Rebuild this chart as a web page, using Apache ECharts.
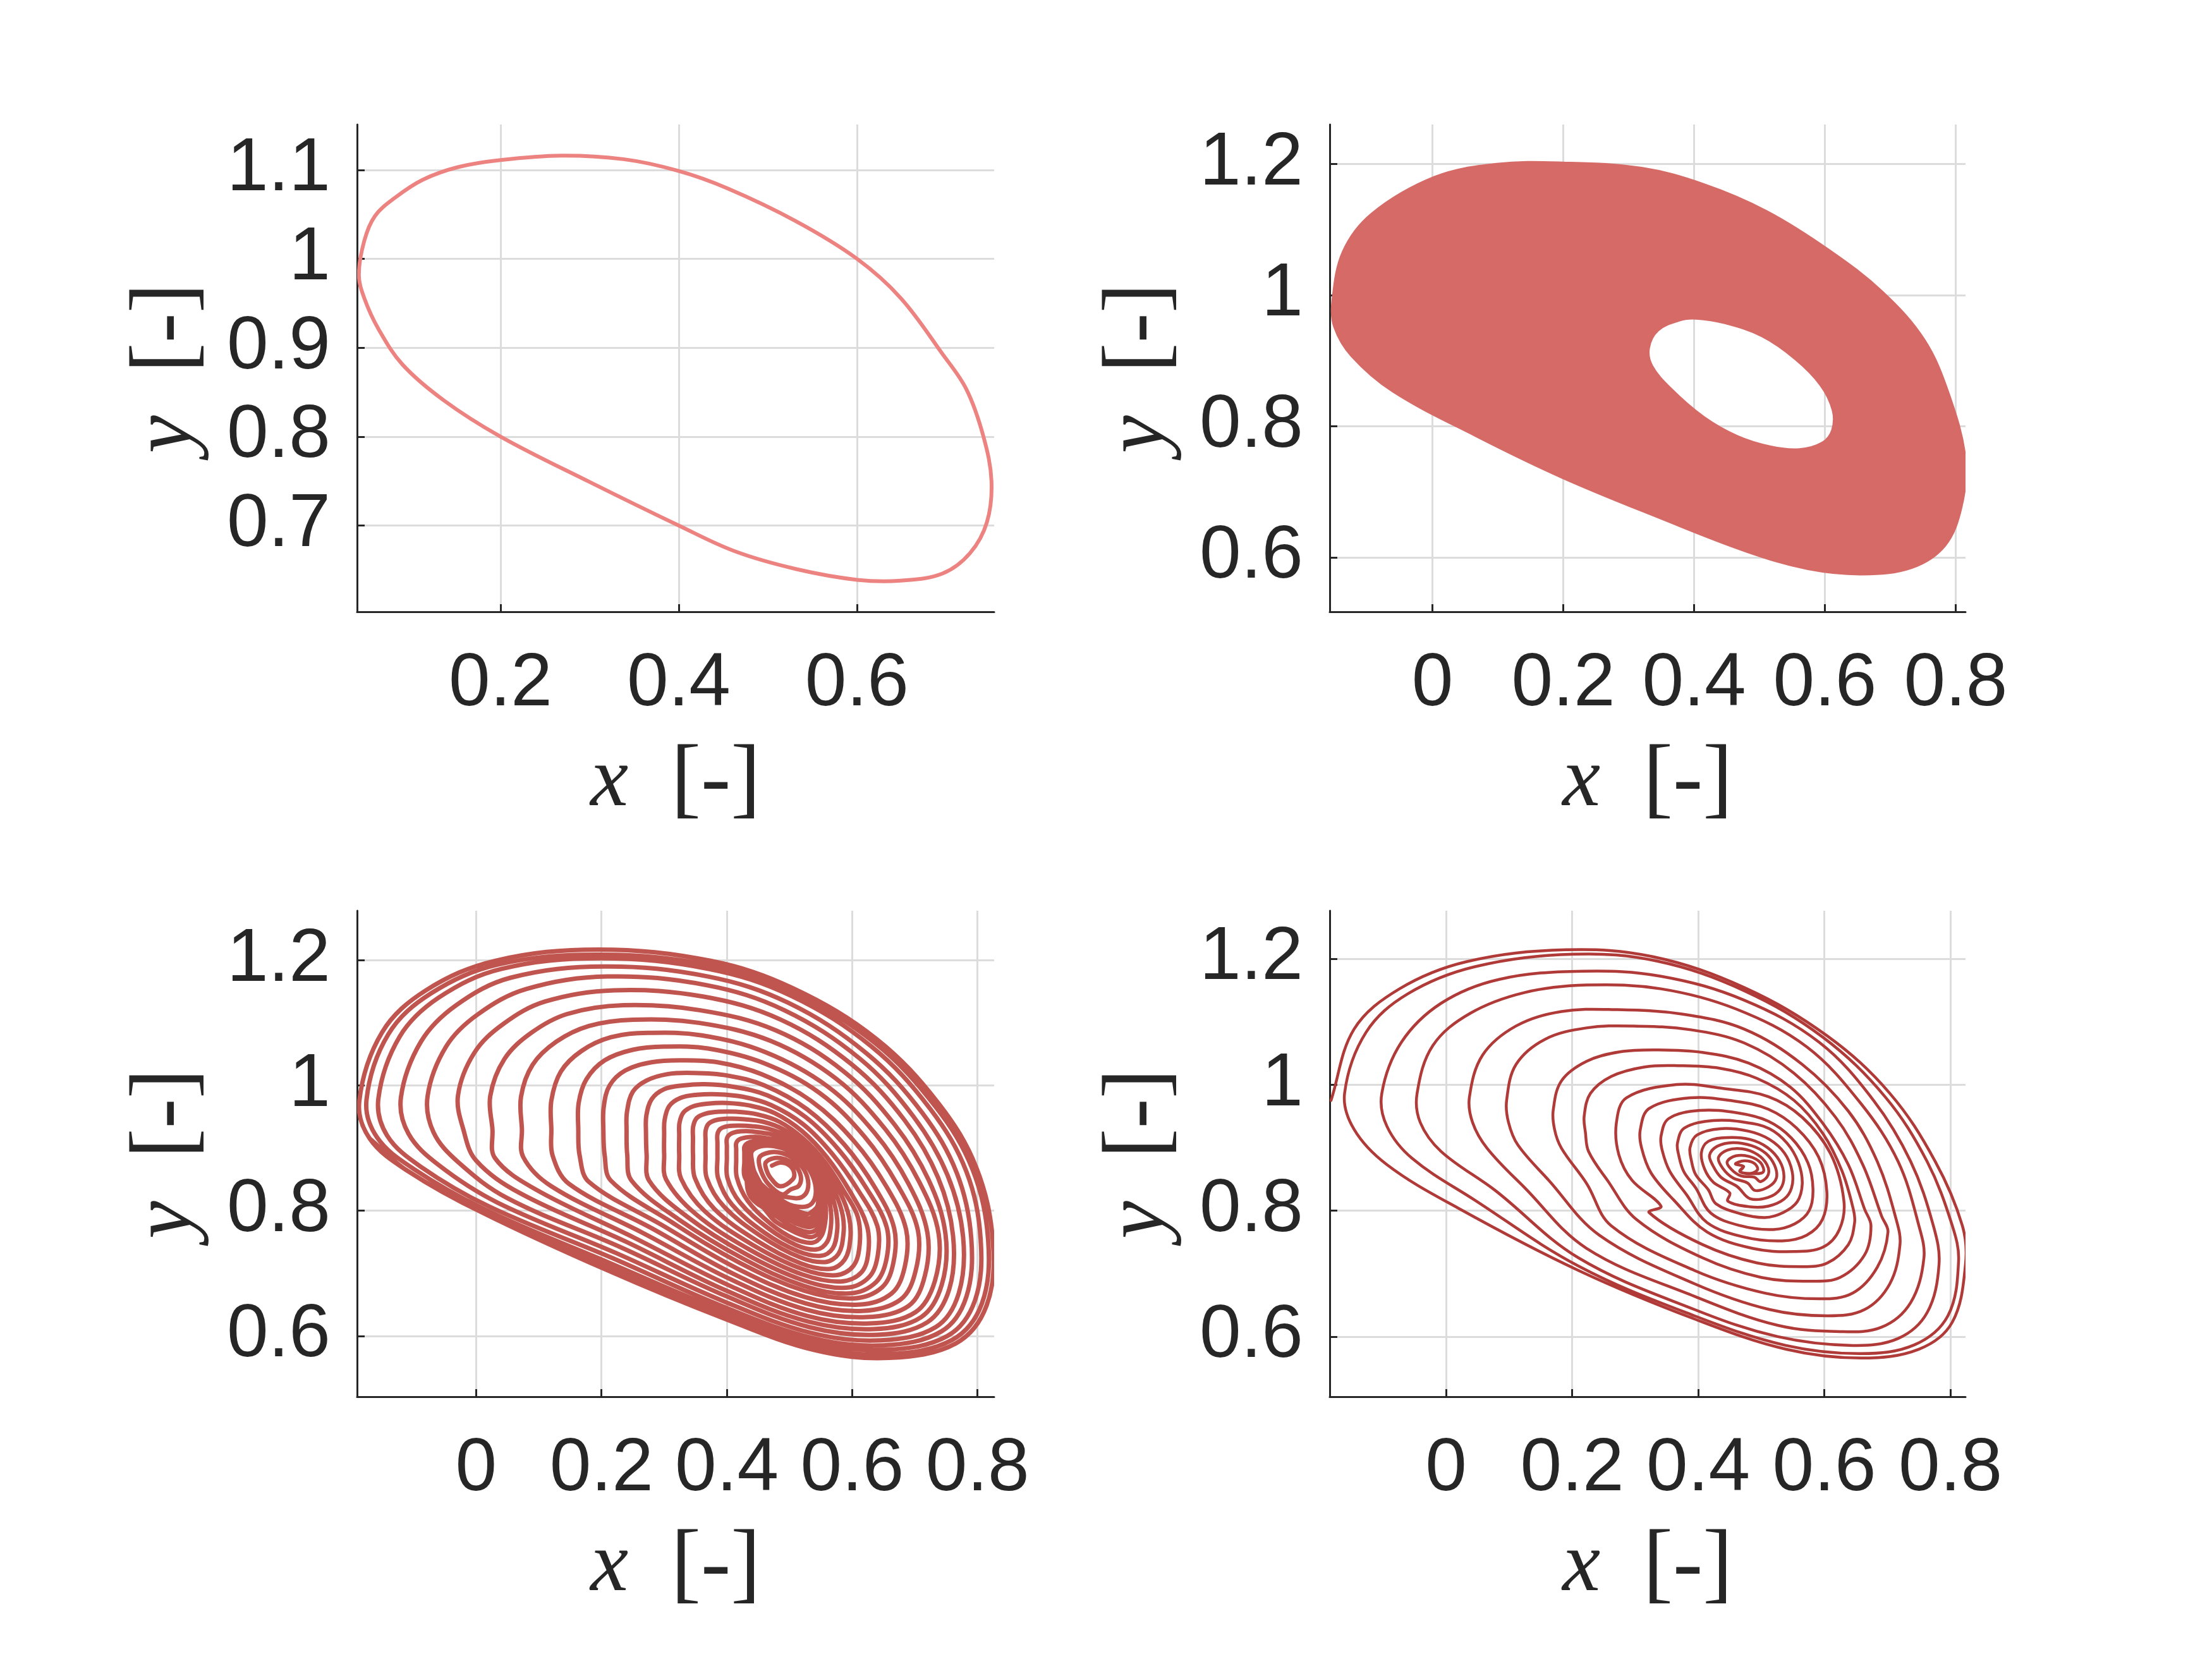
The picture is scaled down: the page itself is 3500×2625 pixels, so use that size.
<!DOCTYPE html>
<html>
<head>
<meta charset="utf-8">
<script src="https://cdn.jsdelivr.net/npm/echarts@6.0.0/dist/echarts.min.js"></script>
<style>
    html, body { margin: 0; padding: 0; background: #ffffff; }
    #main { width: 3500px; height: 2625px; }
</style>
</head>
<body>
<div id="main"></div>
<script>
const log = console.log.bind(console)
const e = sel => document.querySelector(sel)

// limit cycle (top left)
const tlCycle = [
    [0.041, 0.982], [0.047, 1.02], [0.059, 1.048], [0.082, 1.069], [0.113, 1.089], [0.152, 1.103],
    [0.2, 1.111], [0.268, 1.116], [0.338, 1.112], [0.399, 1.099], [0.455, 1.079], [0.532, 1.042],
    [0.6, 1.0], [0.649, 0.956], [0.696, 0.893], [0.723, 0.853], [0.742, 0.8], [0.751, 0.75],
    [0.746, 0.704], [0.727, 0.669], [0.696, 0.646], [0.649, 0.638], [0.6, 0.639], [0.532, 0.651],
    [0.463, 0.671], [0.4, 0.7], [0.3, 0.749], [0.2, 0.8], [0.136, 0.841], [0.09, 0.881],
    [0.063, 0.921], [0.047, 0.956],
]

// torus band (top right): outer edge and hole edge
const trOuter = [
    [-0.153, 0.99], [-0.137, 1.066], [-0.093, 1.124], [0.003, 1.18], [0.098, 1.2], [0.199, 1.202],
    [0.32, 1.194], [0.415, 1.169], [0.511, 1.128], [0.606, 1.069], [0.688, 1.005], [0.752, 0.932],
    [0.79, 0.848], [0.815, 0.75], [0.809, 0.677], [0.784, 0.618], [0.733, 0.584], [0.657, 0.574],
    [0.574, 0.582], [0.479, 0.609], [0.352, 0.658], [0.199, 0.721], [0.066, 0.785], [-0.061, 0.853],
    [-0.124, 0.907], [-0.15, 0.951],
]
const trHole = [
    [0.331, 0.919], [0.345, 0.946], [0.377, 0.961], [0.403, 0.964], [0.447, 0.957], [0.504, 0.937],
    [0.555, 0.902], [0.593, 0.863], [0.612, 0.824], [0.611, 0.794], [0.596, 0.775], [0.561, 0.765],
    [0.517, 0.769], [0.466, 0.785], [0.415, 0.814], [0.364, 0.858], [0.336, 0.892],
]

// unstable focus spiralling out to the cycle (bottom left), outer ring first
const blSpiral = [
    [[-0.1865, 0.975], [-0.15, 1.085], [-0.08, 1.152], [0.03, 1.199], [0.195, 1.217], [0.374, 1.199], [0.506, 1.155], [0.639, 1.074], [0.738, 0.971], [0.798, 0.869], [0.8245, 0.751], [0.8146, 0.649], [0.765, 0.588], [0.659, 0.565], [0.5395, 0.5775], [0.3937, 0.6286], [0.2081, 0.7054], [0.0093, 0.7974], [-0.11, 0.864], [-0.1697, 0.915]],
    [[-0.175, 0.977], [-0.14, 1.082], [-0.072, 1.147], [0.035, 1.193], [0.197, 1.209], [0.374, 1.192], [0.505, 1.149], [0.636, 1.068], [0.733, 0.966], [0.792, 0.866], [0.817, 0.752], [0.807, 0.652], [0.76, 0.594], [0.657, 0.571], [0.539, 0.583], [0.394, 0.634], [0.21, 0.711], [0.014, 0.802], [-0.1, 0.867], [-0.158, 0.917]],
    [[-0.156, 0.979], [-0.122, 1.078], [-0.06, 1.14], [0.04, 1.186], [0.199, 1.203], [0.372, 1.186], [0.503, 1.143], [0.631, 1.062], [0.725, 0.962], [0.782, 0.863], [0.805, 0.754], [0.796, 0.657], [0.752, 0.6], [0.654, 0.578], [0.538, 0.59], [0.394, 0.64], [0.212, 0.717], [0.02, 0.807], [-0.088, 0.87], [-0.142, 0.92]],
    [[-0.12, 0.981], [-0.088, 1.07], [-0.032, 1.128], [0.055, 1.172], [0.205, 1.19], [0.37, 1.174], [0.498, 1.132], [0.622, 1.052], [0.712, 0.956], [0.767, 0.86], [0.79, 0.756], [0.782, 0.662], [0.742, 0.607], [0.65, 0.585], [0.536, 0.597], [0.394, 0.647], [0.216, 0.725], [0.034, 0.813], [-0.06, 0.873], [-0.108, 0.923]],
    [[-0.0775, 0.983], [-0.048, 1.062], [0.002, 1.113], [0.08, 1.154], [0.21, 1.174], [0.368, 1.16], [0.492, 1.12], [0.612, 1.043], [0.698, 0.95], [0.752, 0.857], [0.777, 0.758], [0.77, 0.668], [0.733, 0.614], [0.646, 0.593], [0.534, 0.605], [0.396, 0.655], [0.222, 0.733], [0.05, 0.82], [-0.028, 0.877], [-0.068, 0.925]],
    [[-0.029, 0.984], [-0.003, 1.052], [0.043, 1.098], [0.11, 1.134], [0.22, 1.152], [0.362, 1.142], [0.486, 1.105], [0.6, 1.033], [0.684, 0.944], [0.737, 0.853], [0.761, 0.76], [0.755, 0.675], [0.72, 0.622], [0.64, 0.602], [0.532, 0.614], [0.398, 0.664], [0.23, 0.742], [0.07, 0.828], [0.0, 0.88], [-0.02, 0.928]],
    [[0.0225, 0.983], [0.045, 1.042], [0.088, 1.084], [0.145, 1.114], [0.235, 1.128], [0.358, 1.12], [0.478, 1.088], [0.587, 1.022], [0.668, 0.937], [0.722, 0.849], [0.749, 0.762], [0.743, 0.682], [0.71, 0.63], [0.634, 0.611], [0.53, 0.623], [0.4, 0.672], [0.24, 0.75], [0.095, 0.834], [0.03, 0.884], [0.026, 0.93]],
    [[0.0716, 0.982], [0.09, 1.033], [0.128, 1.07], [0.18, 1.095], [0.25, 1.105], [0.355, 1.1], [0.47, 1.071], [0.574, 1.011], [0.653, 0.93], [0.707, 0.846], [0.738, 0.763], [0.732, 0.688], [0.701, 0.638], [0.628, 0.62], [0.528, 0.632], [0.403, 0.681], [0.252, 0.757], [0.12, 0.839], [0.075, 0.886], [0.073, 0.93]],
    [[0.12, 0.976], [0.135, 1.022], [0.168, 1.055], [0.215, 1.077], [0.275, 1.084], [0.36, 1.08], [0.462, 1.053], [0.56, 0.999], [0.636, 0.924], [0.69, 0.843], [0.72, 0.765], [0.716, 0.696], [0.69, 0.648], [0.622, 0.63], [0.527, 0.642], [0.407, 0.69], [0.265, 0.765], [0.148, 0.843], [0.122, 0.888], [0.12, 0.93]],
    [[0.1636, 0.972], [0.176, 1.01], [0.205, 1.04], [0.25, 1.057], [0.3, 1.062], [0.37, 1.059], [0.458, 1.036], [0.548, 0.988], [0.62, 0.918], [0.673, 0.84], [0.705, 0.768], [0.701, 0.703], [0.677, 0.658], [0.616, 0.64], [0.526, 0.652], [0.411, 0.699], [0.28, 0.772], [0.18, 0.846], [0.165, 0.889], [0.163, 0.93]],
    [[0.2036, 0.966], [0.213, 1.0], [0.238, 1.024], [0.28, 1.037], [0.325, 1.04], [0.385, 1.037], [0.455, 1.018], [0.535, 0.975], [0.603, 0.911], [0.655, 0.838], [0.686, 0.77], [0.684, 0.711], [0.663, 0.668], [0.61, 0.65], [0.525, 0.662], [0.416, 0.708], [0.295, 0.778], [0.215, 0.848], [0.205, 0.889], [0.203, 0.93]],
    [[0.2407, 0.958], [0.25, 0.99], [0.272, 1.008], [0.305, 1.018], [0.345, 1.02], [0.4, 1.016], [0.46, 1.0], [0.528, 0.962], [0.588, 0.905], [0.637, 0.836], [0.667, 0.772], [0.666, 0.718], [0.648, 0.678], [0.602, 0.66], [0.524, 0.672], [0.42, 0.717], [0.31, 0.783], [0.248, 0.848], [0.241, 0.89], [0.24, 0.928]],
    [[0.2716, 0.952], [0.28, 0.978], [0.3, 0.994], [0.33, 1.0], [0.365, 1.002], [0.41, 0.998], [0.465, 0.984], [0.525, 0.95], [0.578, 0.898], [0.624, 0.834], [0.655, 0.774], [0.655, 0.724], [0.638, 0.686], [0.596, 0.668], [0.523, 0.68], [0.425, 0.724], [0.322, 0.787], [0.276, 0.848], [0.272, 0.89], [0.271, 0.925]],
    [[0.3007, 0.945], [0.308, 0.967], [0.326, 0.98], [0.352, 0.985], [0.385, 0.986], [0.425, 0.982], [0.47, 0.969], [0.522, 0.938], [0.568, 0.891], [0.61, 0.832], [0.64, 0.776], [0.641, 0.73], [0.627, 0.694], [0.59, 0.677], [0.522, 0.689], [0.43, 0.731], [0.336, 0.791], [0.303, 0.85], [0.3, 0.89], [0.3, 0.922]],
    [[0.3244, 0.94], [0.331, 0.957], [0.347, 0.967], [0.37, 0.971], [0.4, 0.972], [0.436, 0.968], [0.476, 0.956], [0.52, 0.927], [0.56, 0.885], [0.597, 0.83], [0.623, 0.778], [0.626, 0.736], [0.615, 0.702], [0.582, 0.687], [0.521, 0.698], [0.436, 0.738], [0.35, 0.795], [0.327, 0.851], [0.324, 0.89], [0.324, 0.92]],
    [[0.3462, 0.934], [0.352, 0.948], [0.366, 0.955], [0.388, 0.958], [0.415, 0.958], [0.448, 0.954], [0.484, 0.942], [0.522, 0.915], [0.557, 0.877], [0.59, 0.826], [0.609, 0.79], [0.612, 0.747], [0.602, 0.712], [0.574, 0.697], [0.52, 0.707], [0.442, 0.745], [0.365, 0.799], [0.349, 0.852], [0.346, 0.89], [0.346, 0.916]],
    [[0.3662, 0.928], [0.371, 0.939], [0.384, 0.945], [0.404, 0.947], [0.428, 0.946], [0.458, 0.942], [0.49, 0.93], [0.524, 0.905], [0.556, 0.869], [0.582, 0.826], [0.595, 0.79], [0.597, 0.755], [0.588, 0.722], [0.565, 0.707], [0.518, 0.716], [0.448, 0.752], [0.38, 0.803], [0.368, 0.852], [0.366, 0.888], [0.366, 0.912]],
    [[0.385, 0.922], [0.39, 0.931], [0.402, 0.935], [0.42, 0.936], [0.44, 0.935], [0.466, 0.931], [0.494, 0.92], [0.525, 0.897], [0.553, 0.864], [0.574, 0.826], [0.585, 0.792], [0.586, 0.762], [0.578, 0.731], [0.557, 0.718], [0.516, 0.726], [0.455, 0.759], [0.395, 0.807], [0.386, 0.852], [0.385, 0.886], [0.385, 0.908]],
    [[0.4, 0.915], [0.405, 0.922], [0.416, 0.926], [0.432, 0.927], [0.452, 0.925], [0.475, 0.921], [0.5, 0.911], [0.527, 0.89], [0.55, 0.86], [0.567, 0.826], [0.575, 0.795], [0.576, 0.768], [0.569, 0.74], [0.55, 0.728], [0.514, 0.735], [0.46, 0.765], [0.408, 0.81], [0.401, 0.852], [0.4, 0.885], [0.4, 0.903]],
    [[0.415, 0.908], [0.42, 0.914], [0.431, 0.917], [0.446, 0.918], [0.462, 0.916], [0.484, 0.912], [0.507, 0.902], [0.53, 0.882], [0.549, 0.856], [0.561, 0.826], [0.566, 0.8], [0.566, 0.775], [0.56, 0.75], [0.543, 0.738], [0.511, 0.745], [0.466, 0.772], [0.421, 0.813], [0.416, 0.853], [0.415, 0.883], [0.415, 0.898]],
    [[0.428, 0.902], [0.433, 0.908], [0.443, 0.911], [0.458, 0.911], [0.472, 0.909], [0.49, 0.905], [0.51, 0.895], [0.53, 0.877], [0.546, 0.853], [0.555, 0.826], [0.558, 0.803], [0.557, 0.782], [0.551, 0.76], [0.537, 0.749], [0.508, 0.755], [0.47, 0.779], [0.433, 0.816], [0.429, 0.853], [0.428, 0.88], [0.428, 0.893]],
    [[0.43, 0.9], [0.435, 0.907], [0.445, 0.91], [0.46, 0.91], [0.475, 0.908], [0.492, 0.903], [0.512, 0.893], [0.531, 0.875], [0.546, 0.852], [0.554, 0.826], [0.556, 0.805], [0.555, 0.786], [0.549, 0.767], [0.536, 0.758], [0.52, 0.761], [0.5, 0.77], [0.472, 0.788], [0.438, 0.822], [0.431, 0.856], [0.43, 0.882]],
    [[0.432, 0.899], [0.437, 0.906], [0.447, 0.909], [0.462, 0.909], [0.477, 0.907], [0.494, 0.902], [0.513, 0.891], [0.532, 0.873], [0.546, 0.851], [0.553, 0.826], [0.554, 0.807], [0.553, 0.79], [0.547, 0.774], [0.535, 0.766], [0.52, 0.768], [0.5, 0.777], [0.474, 0.795], [0.441, 0.827], [0.433, 0.858], [0.432, 0.882]],
    [[0.434, 0.898], [0.439, 0.905], [0.449, 0.908], [0.464, 0.908], [0.479, 0.906], [0.496, 0.9], [0.515, 0.889], [0.533, 0.871], [0.546, 0.85], [0.552, 0.826], [0.552, 0.809], [0.551, 0.794], [0.545, 0.781], [0.534, 0.774], [0.52, 0.776], [0.5, 0.785], [0.476, 0.802], [0.444, 0.832], [0.435, 0.86], [0.434, 0.882]],
    [[0.436, 0.897], [0.441, 0.904], [0.451, 0.907], [0.466, 0.907], [0.481, 0.905], [0.497, 0.899], [0.516, 0.887], [0.534, 0.869], [0.545, 0.849], [0.55, 0.827], [0.55, 0.811], [0.549, 0.798], [0.543, 0.788], [0.533, 0.781], [0.52, 0.783], [0.5, 0.792], [0.478, 0.808], [0.447, 0.836], [0.437, 0.862], [0.436, 0.882]],
    [[0.438, 0.896], [0.443, 0.903], [0.453, 0.906], [0.468, 0.906], [0.483, 0.904], [0.498, 0.898], [0.517, 0.885], [0.534, 0.867], [0.544, 0.848], [0.548, 0.828], [0.548, 0.813], [0.547, 0.802], [0.541, 0.794], [0.532, 0.788], [0.52, 0.79], [0.5, 0.799], [0.48, 0.814], [0.45, 0.841], [0.439, 0.864], [0.438, 0.882]],
    [[0.439, 0.895], [0.445, 0.902], [0.455, 0.905], [0.47, 0.905], [0.485, 0.903], [0.499, 0.897], [0.518, 0.883], [0.534, 0.865], [0.543, 0.847], [0.546, 0.829], [0.546, 0.815], [0.544, 0.806], [0.538, 0.8], [0.53, 0.795], [0.52, 0.797], [0.5, 0.806], [0.481, 0.82], [0.452, 0.845], [0.44, 0.866], [0.439, 0.882]],
    [[0.44, 0.895], [0.455, 0.903], [0.475, 0.903], [0.5, 0.895], [0.522, 0.878], [0.537, 0.855], [0.542, 0.83], [0.536, 0.812], [0.52, 0.806], [0.495, 0.812], [0.465, 0.832], [0.445, 0.86], [0.44, 0.88]],
    [[0.452, 0.885], [0.468, 0.893], [0.488, 0.892], [0.508, 0.882], [0.524, 0.864], [0.53, 0.843], [0.525, 0.826], [0.51, 0.82], [0.488, 0.826], [0.466, 0.843], [0.454, 0.865]],
    [[0.462, 0.877], [0.476, 0.884], [0.493, 0.882], [0.51, 0.871], [0.518, 0.855], [0.515, 0.84], [0.502, 0.834], [0.485, 0.839], [0.47, 0.852], [0.463, 0.866]],
    [[0.472, 0.872], [0.485, 0.877], [0.499, 0.873], [0.507, 0.862], [0.505, 0.85], [0.495, 0.845], [0.482, 0.85], [0.474, 0.86]],
]

// stable focus (bottom right), outer ring first
const brSpiral = [
    [[-0.1825, 0.975], [-0.146, 1.088], [-0.074, 1.152], [0.032, 1.195], [0.19, 1.214], [0.328, 1.203], [0.473, 1.154], [0.605, 1.077], [0.704, 0.986], [0.776, 0.878], [0.819, 0.776], [0.824, 0.715], [0.803, 0.623], [0.75, 0.58], [0.658, 0.566], [0.539, 0.58], [0.394, 0.628], [0.21, 0.705], [0.012, 0.797], [-0.107, 0.868], [-0.166, 0.924]],
    [[-0.161, 0.986], [-0.127, 1.083], [-0.061, 1.144], [0.045, 1.187], [0.203, 1.207], [0.335, 1.196], [0.473, 1.149], [0.598, 1.075], [0.697, 0.98], [0.763, 0.878], [0.803, 0.776], [0.813, 0.72], [0.796, 0.633], [0.743, 0.587], [0.658, 0.573], [0.539, 0.586], [0.394, 0.633], [0.21, 0.712], [0.019, 0.804], [-0.094, 0.873], [-0.146, 0.929]],
    [[-0.102, 0.986], [-0.071, 1.067], [-0.008, 1.129], [0.084, 1.167], [0.216, 1.18], [0.341, 1.172], [0.473, 1.134], [0.592, 1.067], [0.678, 0.975], [0.737, 0.878], [0.773, 0.776], [0.782, 0.715], [0.763, 0.638], [0.717, 0.597], [0.645, 0.586], [0.526, 0.6], [0.394, 0.643], [0.21, 0.725], [0.045, 0.817], [-0.054, 0.883], [-0.094, 0.934]],
    [[-0.046, 0.986], [-0.021, 1.062], [0.038, 1.113], [0.124, 1.146], [0.223, 1.158], [0.341, 1.152], [0.46, 1.12], [0.572, 1.06], [0.658, 0.97], [0.717, 0.878], [0.75, 0.776], [0.758, 0.725], [0.737, 0.654], [0.691, 0.615], [0.625, 0.608], [0.526, 0.618], [0.394, 0.664], [0.223, 0.74], [0.078, 0.832], [-0.008, 0.894], [-0.041, 0.94]],
    [[0.037, 0.98], [0.058, 1.047], [0.111, 1.093], [0.183, 1.116], [0.269, 1.119], [0.374, 1.112], [0.473, 1.088], [0.565, 1.032], [0.638, 0.958], [0.684, 0.878], [0.714, 0.786], [0.72, 0.746], [0.704, 0.684], [0.664, 0.643], [0.605, 0.633], [0.513, 0.643], [0.394, 0.684], [0.243, 0.761], [0.124, 0.837], [0.065, 0.899], [0.042, 0.94]],
    [[0.096, 0.975], [0.111, 1.032], [0.157, 1.072], [0.223, 1.09], [0.295, 1.093], [0.388, 1.087], [0.473, 1.066], [0.552, 1.018], [0.618, 0.948], [0.661, 0.873], [0.691, 0.791], [0.701, 0.766], [0.684, 0.71], [0.645, 0.669], [0.592, 0.66], [0.506, 0.669], [0.394, 0.705], [0.262, 0.776], [0.163, 0.848], [0.114, 0.904], [0.099, 0.94]],
    [[0.17, 0.96], [0.183, 1.006], [0.223, 1.037], [0.276, 1.052], [0.335, 1.055], [0.407, 1.051], [0.48, 1.034], [0.546, 0.996], [0.598, 0.938], [0.638, 0.873], [0.664, 0.802], [0.674, 0.776], [0.664, 0.73], [0.625, 0.694], [0.579, 0.688], [0.5, 0.694], [0.407, 0.725], [0.302, 0.786], [0.223, 0.843], [0.183, 0.899], [0.172, 0.929]],
    [[0.219, 0.95], [0.229, 0.986], [0.262, 1.013], [0.315, 1.028], [0.368, 1.03], [0.434, 1.026], [0.493, 1.01], [0.552, 0.975], [0.598, 0.922], [0.628, 0.863], [0.646, 0.802], [0.648, 0.781], [0.638, 0.746], [0.605, 0.717], [0.565, 0.711], [0.493, 0.717], [0.407, 0.746], [0.322, 0.797], [0.256, 0.848], [0.226, 0.894], [0.221, 0.924]],
    [[0.27, 0.938], [0.286, 0.979], [0.366, 1.0], [0.438, 0.994], [0.511, 0.981], [0.565, 0.948], [0.61, 0.89], [0.631, 0.816], [0.624, 0.77], [0.598, 0.742], [0.552, 0.735], [0.486, 0.74], [0.414, 0.766], [0.341, 0.807], [0.295, 0.848], [0.274, 0.889]],
    [[0.308, 0.928], [0.322, 0.962], [0.3875, 0.979], [0.456, 0.974], [0.511, 0.961], [0.556, 0.931], [0.591, 0.885], [0.604, 0.83], [0.597, 0.786], [0.572, 0.761], [0.533, 0.752], [0.473, 0.758], [0.414, 0.781], [0.361, 0.817], [0.325, 0.86], [0.31, 0.9]],
    [[0.341, 0.918], [0.353, 0.946], [0.402, 0.959], [0.463, 0.955], [0.511, 0.942], [0.548, 0.915], [0.574, 0.876], [0.582, 0.835], [0.576, 0.8], [0.553, 0.779], [0.519, 0.77], [0.467, 0.776], [0.42, 0.796], [0.381, 0.826], [0.355, 0.862], [0.343, 0.895]],
    [[0.367, 0.907], [0.378, 0.931], [0.424, 0.943], [0.475, 0.94], [0.513, 0.93], [0.541, 0.907], [0.559, 0.876], [0.565, 0.843], [0.557, 0.814], [0.535, 0.797], [0.506, 0.789], [0.467, 0.795], [0.428, 0.811], [0.396, 0.836], [0.377, 0.862], [0.369, 0.888]],
    [[0.387, 0.9], [0.398, 0.92], [0.435, 0.93], [0.48, 0.926], [0.513, 0.913], [0.537, 0.891], [0.549, 0.862], [0.548, 0.836], [0.536, 0.818], [0.511, 0.807], [0.482, 0.806], [0.447, 0.815], [0.416, 0.833], [0.396, 0.857], [0.389, 0.88]],
    [[0.405, 0.892], [0.416, 0.91], [0.446, 0.916], [0.482, 0.913], [0.51, 0.9], [0.529, 0.879], [0.536, 0.855], [0.53, 0.834], [0.511, 0.821], [0.482, 0.819], [0.45, 0.828], [0.424, 0.845], [0.41, 0.866]],
    [[0.418, 0.888], [0.43, 0.902], [0.455, 0.908], [0.485, 0.903], [0.507, 0.891], [0.521, 0.872], [0.524, 0.852], [0.512, 0.838], [0.49, 0.832], [0.462, 0.838], [0.436, 0.853], [0.423, 0.872]],
    [[0.432, 0.884], [0.446, 0.896], [0.47, 0.898], [0.494, 0.889], [0.509, 0.873], [0.511, 0.857], [0.499, 0.846], [0.478, 0.844], [0.455, 0.852], [0.439, 0.867]],
    [[0.446, 0.878], [0.46, 0.887], [0.481, 0.886], [0.499, 0.876], [0.503, 0.861], [0.489, 0.853], [0.468, 0.855], [0.452, 0.866]],
    [[0.459, 0.874], [0.473, 0.879], [0.489, 0.875], [0.494, 0.865], [0.482, 0.859], [0.466, 0.862], [0.472, 0.87]],
]

const xTicksTL = [0.2, 0.4, 0.6]
const yTicksTL = [0.7, 0.8, 0.9, 1, 1.1]
const xTicks = [0, 0.2, 0.4, 0.6, 0.8]
const yTicks = [0.6, 0.8, 1, 1.2]
const xRanges = [[0.039, 0.754], [-0.157, 0.815], [-0.19, 0.8265], [-0.1846, 0.824]]
const yRanges = [[0.603, 1.151], [0.517, 1.26], [0.503, 1.279], [0.5046, 1.276]]

const ink = '#262626'
const sans = 'Liberation Sans, Arial, Helvetica, sans-serif'
const serif = 'Liberation Serif, Times New Roman, serif'

const nameStyle = () => ({
    fontSize: 135,
    color: ink,
    fontFamily: serif,
    rich: {
        i: { fontSize: 135, fontStyle: 'italic', fontFamily: serif, color: ink },
        b: { fontSize: 142, fontFamily: serif, color: ink },
    },
})

const axisCommon = (i, range, ticks) => ({
    type: 'value',
    gridIndex: i,
    min: range[0],
    max: range[1],
    axisLine: { show: true, onZero: false, lineStyle: { color: ink, width: 3 } },
    axisTick: { show: true, inside: true, length: 12, customValues: ticks, lineStyle: { color: ink, width: 3 } },
    splitLine: { show: true, lineStyle: { color: '#dcdcdc', width: 3 } },
})

const makeX = (i, ticks) => Object.assign(axisCommon(i, xRanges[i], ticks), {
    name: '{i|x}  {b|[-]}',
    nameLocation: 'middle',
    nameGap: 200,
    nameTextStyle: nameStyle(),
    axisLabel: { customValues: ticks, margin: 56, fontSize: 118, color: ink, fontFamily: sans },
})

const makeY = (i, ticks) => Object.assign(axisCommon(i, yRanges[i], ticks), {
    name: '{i|y}  {b|[-]}',
    nameLocation: 'middle',
    nameRotate: 90,
    nameGap: 228,
    nameTextStyle: nameStyle(),
    axisLabel: { customValues: ticks, margin: 42, fontSize: 118, color: ink, fontFamily: sans },
})

// one continuous trajectory: each turn ends on the tail of the next ring
const spiralPoints = rings => {
    let pts = []
    rings.forEach((r, k) => {
        let next = rings[k + 1]
        if (next) {
            pts.push(...r.slice(0, r.length - 3), ...next.slice(next.length - 3))
        } else {
            pts.push(...r)
        }
    })
    return pts
}

// smooth path through pixel points (cardinal spline as cubic beziers)
const curvePath = (pts, closed) => {
    let n = pts.length
    let at = k => closed ? pts[(k + n) % n] : pts[Math.max(0, Math.min(n - 1, k))]
    let dist = (a, b) => Math.hypot(a[0] - b[0], a[1] - b[1])
    let s = 0.36
    let ctrl = k => {
        let p = at(k)
        let a = at(k - 1)
        let b = at(k + 1)
        let d0 = dist(a, p)
        let d1 = dist(p, b)
        let sum = d0 + d1 || 1
        let tx = b[0] - a[0]
        let ty = b[1] - a[1]
        return {
            in: [p[0] - tx * s * d0 / sum, p[1] - ty * s * d0 / sum],
            out: [p[0] + tx * s * d1 / sum, p[1] + ty * s * d1 / sum],
        }
    }
    let f = v => v.toFixed(1)
    let d = 'M' + f(pts[0][0]) + ' ' + f(pts[0][1])
    let segs = closed ? n : n - 1
    for (let k = 0; k < segs; k++) {
        let c1 = ctrl(k).out
        let c2 = ctrl(k + 1).in
        let q = at(k + 1)
        d += ' C' + [c1[0], c1[1], c2[0], c2[1], q[0], q[1]].map(f).join(' ')
    }
    return closed ? d + ' Z' : d
}

const curveSeries = (i, points, closed, color, width) => ({
    type: 'custom',
    xAxisIndex: i,
    yAxisIndex: i,
    silent: true,
    clip: true,
    data: [points[0]],
    renderItem: (params, api) => ({
        type: 'path',
        shape: { pathData: curvePath(points.map(p => api.coord(p)), closed) },
        style: { fill: 'none', stroke: color, lineWidth: width, lineJoin: 'round', lineCap: 'round' },
    }),
})

const bandSeries = (color) => ({
    type: 'custom',
    xAxisIndex: 1,
    yAxisIndex: 1,
    silent: true,
    clip: true,
    data: [trOuter[0]],
    renderItem: (params, api) => {
        let outer = curvePath(trOuter.map(p => api.coord(p)), true)
        let hole = curvePath(trHole.slice().reverse().map(p => api.coord(p)), true)
        return {
            type: 'path',
            shape: { pathData: outer + ' ' + hole },
            style: { fill: color, stroke: color, lineWidth: 3 },
        }
    },
})

const initChart = () => {
    let chart = echarts.init(e('#main'), null, { renderer: 'canvas' })
    let option = {
        backgroundColor: '#ffffff',
        animation: false,
        grid: [
            { left: 565, top: 197, width: 1008, height: 771 },
            { left: 2104, top: 197, width: 1006, height: 771 },
            { left: 565, top: 1441, width: 1008, height: 769 },
            { left: 2104, top: 1441, width: 1006, height: 769 },
        ],
        xAxis: [
            makeX(0, xTicksTL),
            makeX(1, xTicks),
            makeX(2, xTicks),
            makeX(3, xTicks),
        ],
        yAxis: [
            makeY(0, yTicksTL),
            makeY(1, yTicks),
            makeY(2, yTicks),
            makeY(3, yTicks),
        ],
        series: [
            curveSeries(0, tlCycle, true, '#EC8380', 6),
            bandSeries('#D56A66'),
            curveSeries(2, spiralPoints(blSpiral.slice().reverse()), false, '#C0554F', 7),
            curveSeries(3, spiralPoints(brSpiral), false, '#B03A37', 4.5),
        ],
    }
    chart.setOption(option)
}

const __main = () => {
    initChart()
}

__main()
</script>
</body>
</html>
